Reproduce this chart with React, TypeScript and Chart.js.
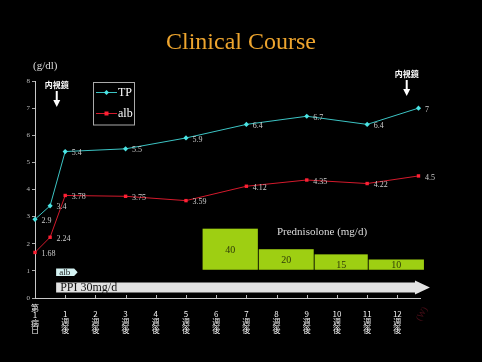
import React, { useEffect, useRef } from "react";
import { Chart, registerables } from "chart.js";

Chart.register(...registerables);

// ---- data ----
const weeks = [0, 0.5, 1, 3, 5, 7, 9, 11, 12.7];
const tpValues = [2.9, 3.4, 5.4, 5.5, 5.9, 6.4, 6.7, 6.4, 7];
const albValues = [1.68, 2.24, 3.78, 3.75, 3.59, 4.12, 4.35, 4.22, 4.5];
const xTickLabels: string[][] = [
  ["第", "1", "病", "日"],
  ["1", "週", "後"],
  ["2", "週", "後"],
  ["3", "週", "後"],
  ["4", "週", "後"],
  ["5", "週", "後"],
  ["6", "週", "後"],
  ["7", "週", "後"],
  ["8", "週", "後"],
  ["9", "週", "後"],
  ["10", "週", "後"],
  ["11", "週", "後"],
  ["12", "週", "後"],
];
const yTicks = [0, 1, 2, 3, 4, 5, 6, 7, 8];
const predStart = [5.55, 7.41, 9.26, 11.05];
const predEnd = [7.38, 9.23, 11.02, 12.88];
const predDose = [40, 20, 15, 10];
const endoscopyWeeks = [0.72, 12.31];
const ppiStart = 0.7;
const ppiEnd = 13.08;

const SERIF = "'Liberation Serif', 'Times New Roman', serif";
const JP = "'Noto Sans CJK JP', sans-serif";
const TP_LINE = "#3cc4c4";
const TP_PT = "#4ae4e4";
const ALB_LINE = "#d41a2c";
const ALB_PT = "#ff2034";

const decorPlugin = {
  id: "decor",
  beforeDatasetsDraw(chart: any) {
    const ctx = chart.ctx;
    const xs = chart.scales.x;
    const yp = chart.scales.yPred;
    ctx.save();
    // Prednisolone bars
    for (let i = 0; i < predDose.length; i++) {
      const x0 = xs.getPixelForValue(predStart[i]);
      const x1 = xs.getPixelForValue(predEnd[i]);
      const yTop = yp.getPixelForValue(predDose[i]);
      const yBase = yp.getPixelForValue(0);
      ctx.fillStyle = "#9ecf12";
      ctx.fillRect(x0, yTop, x1 - x0, yBase - yTop);
      ctx.fillStyle = "#2e3a08";
      ctx.font = `10px ${SERIF}`;
      ctx.textAlign = "center";
      ctx.textBaseline = "middle";
      const ty = predDose[i] >= 20 ? (yTop + yBase) / 2 + 1 : yBase - 4;
      ctx.fillText(String(predDose[i]), (x0 + x1) / 2, ty);
    }
    ctx.fillStyle = "#dddddd";
    ctx.font = `11px ${SERIF}`;
    ctx.textAlign = "center";
    ctx.textBaseline = "middle";
    ctx.fillText("Prednisolone (mg/d)", 322, 232);

    // alb tag
    const ax = xs.getPixelForValue(ppiStart);
    ctx.fillStyle = "#d4f2f2";
    ctx.beginPath();
    ctx.moveTo(ax, 268.5);
    ctx.lineTo(ax + 18, 268.5);
    ctx.lineTo(ax + 21.5, 272.3);
    ctx.lineTo(ax + 18, 276);
    ctx.lineTo(ax, 276);
    ctx.closePath();
    ctx.fill();
    ctx.fillStyle = "#1a1a1a";
    ctx.font = `9px ${SERIF}`;
    ctx.textAlign = "left";
    ctx.fillText("alb", ax + 3, 272.5);

    // PPI arrow
    const pe = xs.getPixelForValue(ppiEnd);
    ctx.fillStyle = "#e2e2e2";
    ctx.beginPath();
    ctx.moveTo(ax, 282.5);
    ctx.lineTo(pe - 15, 282.5);
    ctx.lineTo(pe - 15, 280.5);
    ctx.lineTo(pe, 287.5);
    ctx.lineTo(pe - 15, 294.5);
    ctx.lineTo(pe - 15, 292.5);
    ctx.lineTo(ax, 292.5);
    ctx.closePath();
    ctx.fill();
    ctx.fillStyle = "#111111";
    ctx.font = `12px ${SERIF}`;
    ctx.textAlign = "left";
    ctx.fillText("PPI 30mg/d", ax + 4, 288);
    ctx.restore();
  },
  afterDraw(chart: any) {
    const ctx = chart.ctx;
    const xs = chart.scales.x;
    const ys = chart.scales.y;
    ctx.save();
    // title
    ctx.fillStyle = "#eea52e";
    ctx.font = `24px ${SERIF}`;
    ctx.textAlign = "center";
    ctx.textBaseline = "middle";
    ctx.fillText("Clinical Course", 241, 43);
    // unit
    ctx.fillStyle = "#dddddd";
    ctx.font = `11px ${SERIF}`;
    ctx.textAlign = "left";
    ctx.fillText("(g/dl)", 33, 66);

    // inside x tick marks
    ctx.strokeStyle = "#bbbbbb";
    ctx.lineWidth = 1;
    const yb = ys.getPixelForValue(0);
    for (let i = 1; i < xTickLabels.length; i++) {
      const px = Math.round(xs.getPixelForValue(i)) + 0.5;
      ctx.beginPath();
      ctx.moveTo(px, yb);
      ctx.lineTo(px, yb - 3);
      ctx.stroke();
    }

    // endoscopy annotations
    const tops = [85, 74];
    endoscopyWeeks.forEach((w, i) => {
      const px = xs.getPixelForValue(w);
      const t = tops[i];
      ctx.fillStyle = "#ffffff";
      ctx.font = `bold 8px ${JP}`;
      ctx.textAlign = "center";
      ctx.textBaseline = "middle";
      ctx.fillText("内視鏡", px, t);
      ctx.strokeStyle = "#ffffff";
      ctx.lineWidth = 2;
      ctx.beginPath();
      ctx.moveTo(px, t + 6);
      ctx.lineTo(px, t + 17);
      ctx.stroke();
      ctx.beginPath();
      ctx.moveTo(px - 3.5, t + 15);
      ctx.lineTo(px + 3.5, t + 15);
      ctx.lineTo(px, t + 22);
      ctx.closePath();
      ctx.fill();
    });

    // legend
    ctx.strokeStyle = "#aaaaaa";
    ctx.lineWidth = 1;
    ctx.strokeRect(93.5, 82.5, 41, 42.5);
    const items = [
      { label: "TP", line: TP_LINE, pt: TP_PT, y: 92.5, diamond: true },
      { label: "alb", line: ALB_LINE, pt: ALB_PT, y: 113.5, diamond: false },
    ];
    items.forEach((it) => {
      ctx.strokeStyle = it.line;
      ctx.lineWidth = 1;
      ctx.beginPath();
      ctx.moveTo(96, it.y);
      ctx.lineTo(117, it.y);
      ctx.stroke();
      ctx.fillStyle = it.pt;
      ctx.beginPath();
      if (it.diamond) {
        ctx.moveTo(106.5, it.y - 2.5);
        ctx.lineTo(109, it.y);
        ctx.lineTo(106.5, it.y + 2.5);
        ctx.lineTo(104, it.y);
      } else {
        ctx.rect(104.5, it.y - 2, 4, 4);
      }
      ctx.closePath();
      ctx.fill();
      ctx.fillStyle = "#ffffff";
      ctx.font = `12px ${SERIF}`;
      ctx.textAlign = "left";
      ctx.textBaseline = "middle";
      ctx.fillText(it.label, 118, it.y + 0.5);
    });

    // data labels
    ctx.fillStyle = "#cccccc";
    ctx.font = `8px ${SERIF}`;
    ctx.textAlign = "left";
    ctx.textBaseline = "middle";
    chart.data.datasets.forEach((ds: any, di: number) => {
      const meta = chart.getDatasetMeta(di);
      meta.data.forEach((el: any, i: number) => {
        const v = ds.data[i].y;
        ctx.fillText(String(v), el.x + 6.5, el.y + 1.5);
      });
    });

    // (W)
    ctx.save();
    ctx.translate(422, 314);
    ctx.rotate(-Math.PI / 3);
    ctx.fillStyle = "#4a0e18";
    ctx.font = `9px ${SERIF}`;
    ctx.textAlign = "center";
    ctx.textBaseline = "middle";
    ctx.fillText("(W)", 0, 0);
    ctx.restore();

    ctx.restore();
  },
};

export default function App() {
  const ref = useRef<HTMLCanvasElement | null>(null);
  useEffect(() => {
    if (!ref.current) return;
    const chart = new Chart(ref.current, {
      type: "line",
      data: {
        datasets: [
          {
            label: "TP",
            data: weeks.map((w, i) => ({ x: w, y: tpValues[i] })),
            borderColor: TP_LINE,
            backgroundColor: TP_PT,
            pointBackgroundColor: TP_PT,
            pointBorderColor: TP_PT,
            borderWidth: 1,
            pointStyle: "rectRot",
            pointRadius: 2.6,
            pointBorderWidth: 0,
            tension: 0,
            clip: false as any,
          },
          {
            label: "alb",
            data: weeks.map((w, i) => ({ x: w, y: albValues[i] })),
            borderColor: ALB_LINE,
            backgroundColor: ALB_PT,
            pointBackgroundColor: ALB_PT,
            pointBorderColor: ALB_PT,
            borderWidth: 1,
            pointStyle: "rect",
            pointRadius: 2.4,
            pointBorderWidth: 0,
            tension: 0,
            clip: false as any,
          },
        ],
      },
      options: {
        animation: false,
        responsive: false,
        layout: { padding: { top: 81, left: 0, right: 62, bottom: 20 } },
        plugins: {
          legend: { display: false },
          tooltip: { enabled: false },
          title: { display: false },
        },
        scales: {
          x: {
            type: "linear",
            min: 0,
            max: 12.75,
            afterBuildTicks: (scale: any) => {
              scale.ticks = xTickLabels.map((_, i) => ({ value: i }));
            },
            ticks: {
              autoSkip: false,
              maxRotation: 0,
              minRotation: 0,
              includeBounds: false,
              crossAlign: "far",
              color: "#f2f2f2",
              padding: 10,
              font: (c: any) => ({
                family: JP,
                size: 8,
                lineHeight: c.index === 0 ? 0.925 : 1.0,
              }),
              callback: (v: any) => xTickLabels[Math.round(Number(v))] || "",
            },
            grid: { display: false, drawTicks: false },
            border: { display: true, color: "#c8c8c8", width: 1 },
            afterFit: (scale: any) => {
              scale.height = 44;
            },
          },
          y: {
            type: "linear",
            min: 0,
            max: 8,
            afterBuildTicks: (scale: any) => {
              scale.ticks = yTicks.map((v) => ({ value: v }));
            },
            ticks: {
              color: "#bbbbbb",
              padding: 2,
              font: { family: SERIF, size: 7 },
            },
            grid: { drawOnChartArea: false, drawTicks: true, tickLength: 3, color: "#aaaaaa" },
            border: { display: true, color: "#c8c8c8", width: 1 },
            afterFit: (scale: any) => {
              scale.width = 35;
            },
          },
          yPred: {
            type: "linear",
            display: false,
            min: -27.5,
            max: 183.8,
          },
        },
      } as any,
      plugins: [decorPlugin],
    });
    return () => chart.destroy();
  }, []);
  return (
    <div style={{ position: "fixed", left: 0, top: 0, width: 482, height: 362, background: "#000" }}>
      <canvas ref={ref} width={482} height={362} style={{ display: "block", background: "#000" }} />
    </div>
  );
}
